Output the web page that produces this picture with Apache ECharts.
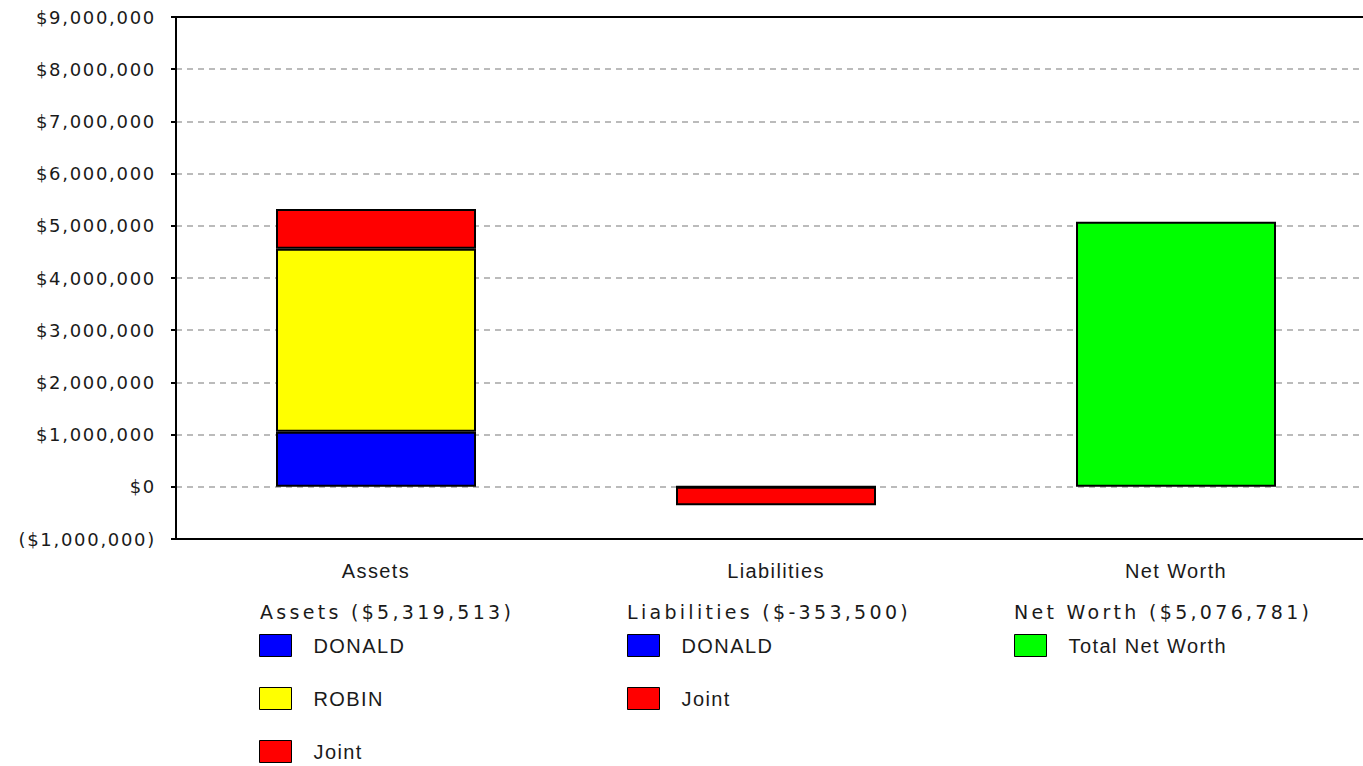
<!DOCTYPE html>
<html>
<head>
<meta charset="utf-8">
<script src="https://cdn.jsdelivr.net/npm/echarts@6/dist/echarts.min.js"></script>
<style>
  html, body { margin: 0; padding: 0; background: #fff; overflow: hidden; }
  /* plot runs a little past the right edge, as in the original */
  #chart { width: 1376px; height: 766px; }
  /* spacing per text kind, picked by font stack */
  #chart text[style*="Verdana"] { letter-spacing: 1.7px; }
  #chart text[style*="Tahoma"] { letter-spacing: 3.3px; }
  #chart text[style*="Arial"] { letter-spacing: 1.4px; }
</style>
</head>
<body>
<div id="chart"></div>
<script>
// categories and values
var categories = ["Assets", "Liabilities", "Net Worth"];
var donald = [1054000, 0, null];
var robin = [3506000, null, null];
var joint = [759513, -353500, null];
var totalNetWorth = [null, null, 5076781];

var groupTitles = ["Assets ($5,319,513)", "Liabilities ($-353,500)", "Net Worth ($5,076,781)"];
var assetsLegend = ["DONALD", "ROBIN", "Joint"];
var liabilitiesLegend = ["DONALD", "Joint"];
var netWorthLegend = ["Total Net Worth"];

var axisFont = "'DejaVu Sans', Verdana, sans-serif";
var headFont = "'DejaVu Sans', Tahoma, sans-serif";
var itemFont = "'Liberation Sans', Arial, sans-serif";

function money(v) {
  var s = Math.abs(v).toString().replace(/\B(?=(\d{3})+(?!\d))/g, ",");
  return v < 0 ? "($" + s + ")" : "$" + s;
}

var chart = echarts.init(document.getElementById("chart"), null, { renderer: "svg" });

function barSeries(name, data, color) {
  return {
    name: name,
    type: "bar",
    stack: "total",
    data: data,
    barWidth: 200,
    animation: false,
    itemStyle: { color: color, borderColor: "#000", borderWidth: 2 }
  };
}

function legendBox(data, left) {
  return {
    data: data,
    orient: "vertical",
    left: left,
    top: 634,
    padding: 0,
    itemWidth: 32,
    itemHeight: 22,
    itemGap: 30,
    icon: "rect",
    selectedMode: false,
    itemStyle: { borderColor: "#000", borderWidth: 1 },
    textStyle: { fontFamily: itemFont, fontSize: 20, color: "#1a1a1a", padding: [0, 0, 0, 17] }
  };
}

function groupTitle(text, left) {
  return {
    text: text,
    left: left,
    top: 602,
    padding: 0,
    textStyle: { fontFamily: headFont, fontSize: 19, fontWeight: "normal", color: "#1a1a1a" }
  };
}

var option = {
  backgroundColor: "#fff",
  animation: false,
  title: [
    groupTitle(groupTitles[0], 260),
    groupTitle(groupTitles[1], 627),
    groupTitle(groupTitles[2], 1014)
  ],
  legend: [
    legendBox(assetsLegend, 259),
    legendBox(liabilitiesLegend, 627),
    legendBox(netWorthLegend, 1014)
  ],
  grid: {
    left: 176,
    right: 0,
    top: 17,
    bottom: 227,
    show: true,
    borderColor: "#000",
    borderWidth: 2,
    backgroundColor: "transparent"
  },
  xAxis: {
    type: "category",
    data: categories,
    axisLine: { onZero: false, lineStyle: { color: "#000", width: 2 } },
    axisTick: { show: false },
    axisLabel: { margin: 22, fontFamily: itemFont, fontSize: 20, color: "#1a1a1a" }
  },
  yAxis: {
    type: "value",
    min: -1000000,
    max: 9000000,
    interval: 1000000,
    axisLine: { show: true, lineStyle: { color: "#000", width: 2 } },
    axisTick: { show: true, length: 5, lineStyle: { color: "#000", width: 2 } },
    axisLabel: {
      margin: 20,
      fontFamily: axisFont,
      fontSize: 18,
      color: "#1a1a1a",
      formatter: money
    },
    splitLine: {
      show: true,
      showMinLine: false,
      showMaxLine: false,
      lineStyle: { color: "#bbb", width: 2, type: [6, 5] }
    }
  },
  series: [
    barSeries("DONALD", donald, "#0000ff"),
    barSeries("ROBIN", robin, "#ffff00"),
    barSeries("Joint", joint, "#ff0000"),
    barSeries("Total Net Worth", totalNetWorth, "#00ff00")
  ]
};

chart.setOption(option);
</script>
</body>
</html>
